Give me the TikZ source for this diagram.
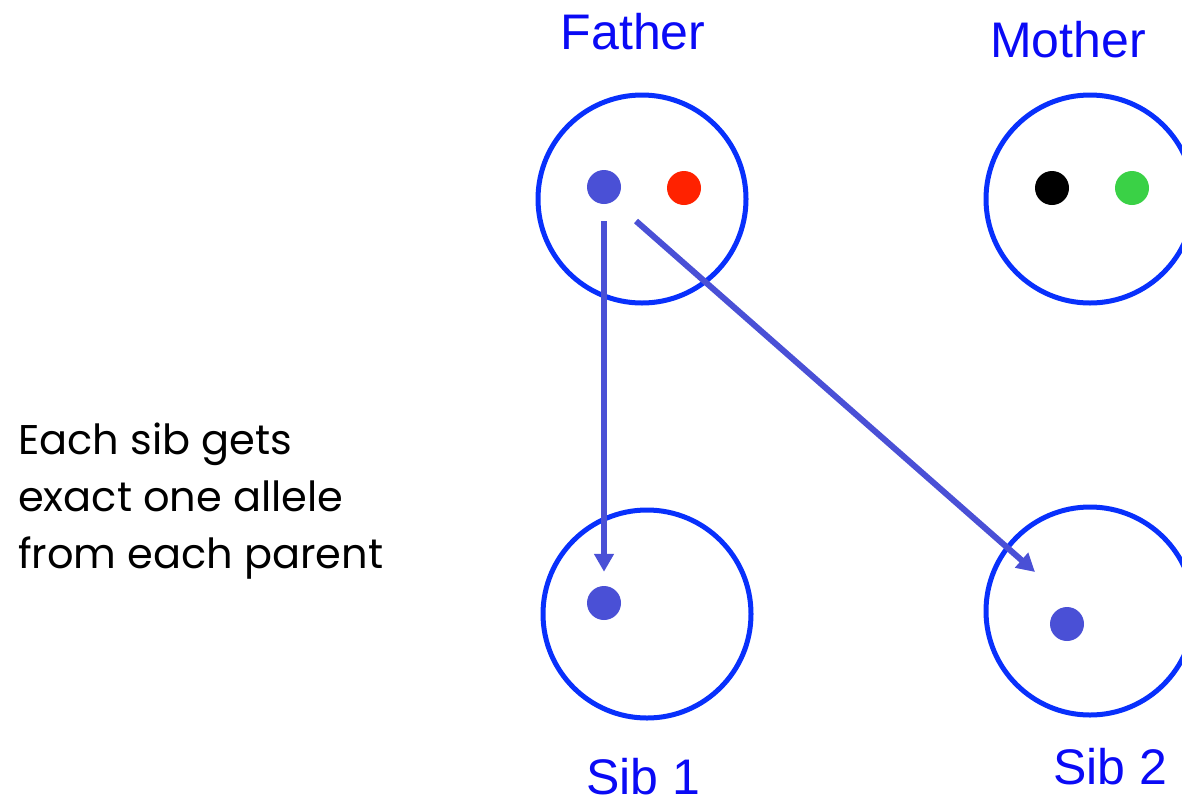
\documentclass[tikz,border=0pt]{standalone}
\usepackage{fontspec}
\setmainfont{Poppins}
\newfontfamily\tagfont{Liberation Sans}
\usepackage{tikz}
\usetikzlibrary{arrows.meta}
\definecolor{ringblue}{RGB}{8,48,252}
\definecolor{alleleblue}{RGB}{74,80,214}
\definecolor{allelered}{RGB}{255,34,0}
\definecolor{allelegreen}{RGB}{58,209,70}
\definecolor{tagblue}{RGB}{10,10,245}
\tikzstyle{person}=[circle,draw=ringblue,line width=5pt,minimum size=208pt,inner sep=0pt]
\tikzstyle{allele}=[circle,minimum size=34pt,inner sep=0pt]
\tikzstyle{tag}=[text=tagblue,font=\tagfont\fontsize{50}{60}\selectfont,anchor=base,inner sep=0pt]
\tikzstyle{handdown}=[draw=alleleblue,line width=6pt,-{Triangle[length=18pt,width=19pt]}]

\begin{document}
\begin{tikzpicture}[x=1pt,y=-1pt]
    \useasboundingbox (0,0) rectangle (1182,804);
    % the four people
    \foreach \pos/\name in {{(642,199)/father}, {(1090,199)/mother}, {(647,614)/sib1}, {(1090,611)/sib2}}
        \node[person] (\name) at \pos {};

    % alleles
    \foreach \pos/\name/\col in {{(604,187)/fa/alleleblue}, {(684,188)/fb/allelered}, {(1052,188)/ma/black}, {(1132,188)/mb/allelegreen}, {(604,603)/s1a/alleleblue}, {(1067,624)/s2a/alleleblue}}
        \node[allele,fill=\col] (\name) at \pos {};

    % names
    \node[tag] (fathertag) at (633,49) {Father};
    \node[tag] (mothertag) at (1068,57) {Mother};
    \node[tag] (sib1tag) at (643,794) {Sib 1};
    \node[tag] (sib2tag) at (1110,784) {Sib 2};

    % the note
    \foreach \y/\name/\txt in {454/note1/Each sib gets, 511/note2/exact one allele, 568/note3/from each parent}
        \node[anchor=base west,inner sep=0pt,font=\fontsize{41.5}{57}\selectfont] (\name) at (18,\y) {\txt};

    % inheritance arrows
    \coordinate (passstart) at (636,221);
    \coordinate (passend) at (1035,572);
    \path[handdown,shorten <=17pt,shorten >=14pt] (fa) -- (s1a);
    \path[handdown] (passstart) -- (passend);
\end{tikzpicture}
\end{document}
